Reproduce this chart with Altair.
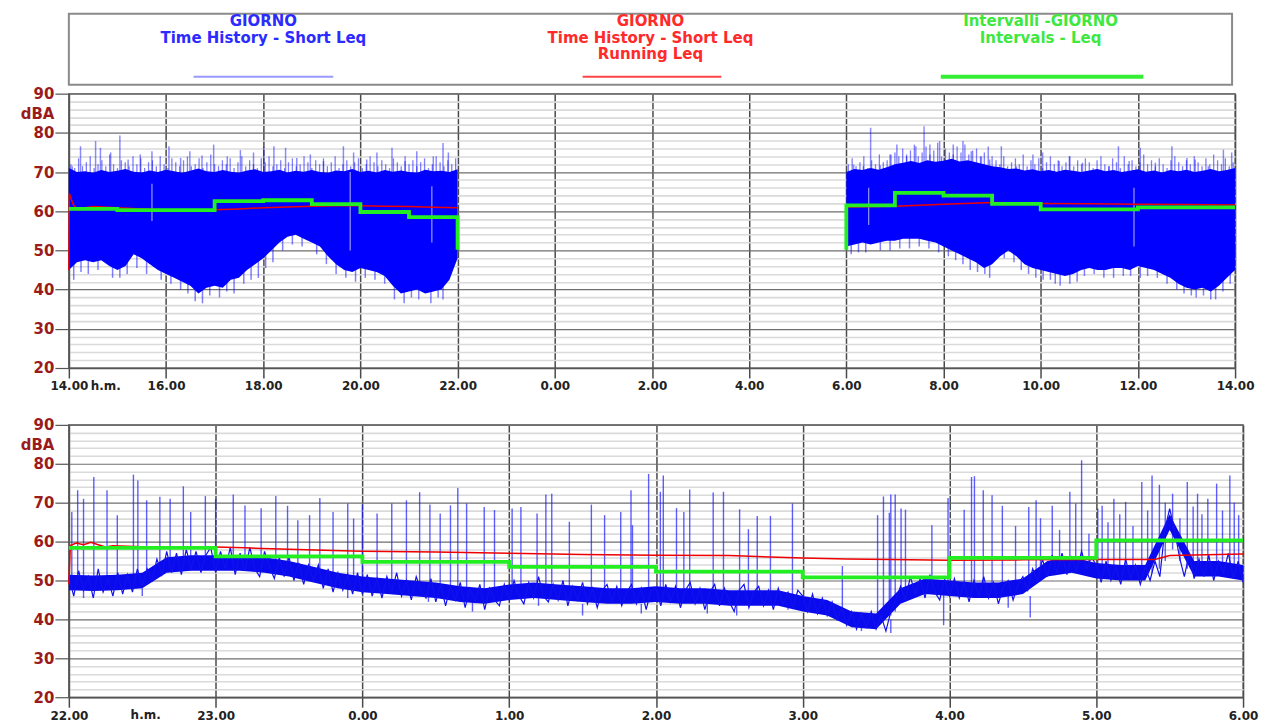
import altair as alt
import pandas as pd

FONT = "DejaVu Sans"
BLUE = "#0000ff"
DARKRED = "#9b1b1b"

# ---------------- TOP PANEL (GIORNO, 14:00 -> 14:00) ; t = hours since 14:00 ----------------
tA = [round(i / 6, 4) for i in range(49)]          # 14:00 -> 22:00, 10-min steps
tB = [round(16 + i / 6, 4) for i in range(49)]     # 06:00 -> 14:00
loA = [45, 47, 47.5, 47, 47.5, 46, 45,
       46, 49, 48, 46.5, 45, 44, 43,
       42, 41, 39, 40.5, 41, 40.5, 42.5,
       43, 45, 46.5, 48, 50, 52, 53.5,
       54, 53, 52, 51, 48.5, 46.5, 45,
       44.5, 45.5, 45, 44.5, 43.5, 41, 39,
       39.5, 40, 39, 39.5, 40, 42.5, 48]
hiA = [71, 70, 70.2, 69.8, 70.5, 70, 70.3, 70.8, 70.1, 69.9,
       70.4, 70, 70.6, 70.2, 69.8, 70.3, 70.9, 70.2, 70, 70.5,
       70.1, 69.8, 70.4, 70.7, 70, 70.2, 70.6, 69.9, 70.3, 70.1,
       70.5, 70, 69.8, 70.4, 70.2, 70.8, 70, 70.3, 69.9, 70.5,
       70.1, 70.4, 70, 69.8, 70.6, 70.2, 70.3, 70, 70.7]
loB = [51, 51.5, 52, 51.5, 52, 52.5, 52.5,
       53, 53, 53, 52.5, 52, 51, 50,
       49, 48, 47, 45.5, 46.5, 48.5, 50,
       48.5, 46.5, 45.5, 45, 44.5, 44, 43.5,
       44, 45, 45.5, 45, 45, 45.5, 45.5,
       45, 46, 45.5, 45, 44, 43, 41.5,
       40.5, 40, 40.5, 39.5, 41, 43, 45]
hiB = [70, 70.8, 70.5, 71, 70.6, 71.2, 72, 72.4, 72.8, 72.3,
       73, 72.6, 72.9, 73.4, 72.7, 73, 72.5, 72, 71.5, 71.2,
       70.8, 70.9, 70.4, 70.7, 70.2, 70.5, 70.1, 70.6, 70.3, 70,
       70.4, 70.8, 70.2, 70.5, 70, 70.3, 70.7, 70.1, 70.4, 69.9,
       70.5, 70.2, 70.6, 70, 70.3, 70.8, 70.2, 70.5, 71]

# dense short fringe spikes above the band (one every ~5 min)
frA_t = [round(0.04 + i * 0.08, 4) for i in range(100)]
frB_t = [round(16.04 + i * 0.08, 4) for i in range(100)]
frA_v = [72, 71, 73.5, 71.5, 72.5, 74, 71, 72, 73, 71.5,
         74.5, 72, 71, 73, 72.5, 71.5, 74, 72, 73.5, 71,
         72.5, 73, 71.5, 74, 72, 71, 73.5, 72.5, 71.5, 73,
         74, 71.5, 72, 73.5, 71, 72.5, 74.5, 72, 71.5, 73,
         72, 73.5, 71, 72.5, 74, 71.5, 73, 72, 71, 73.5,
         72.5, 74, 71.5, 72, 73, 71, 72.5, 73.5, 71.5, 72,
         74, 72.5, 71, 73, 72, 73.5, 71.5, 72.5, 74, 71,
         72, 73, 71.5, 72.5, 73.5, 71, 72, 74, 72.5, 71.5,
         73, 72, 71, 73.5, 72.5, 71.5, 74, 72, 73, 71.5,
         72.5, 73.5, 71, 72, 74, 72.5, 71.5, 73, 72, 73.5]
frB_v = [72, 73.5, 71.5, 72.5, 74, 71, 73, 72, 74.5, 72.5, 73, 74.5,
         75, 74, 76, 74.5, 75.5, 77, 74, 75, 76.5, 74.5, 75.5, 77.5, 74, 76, 75, 74.5, 76.5,
         75, 77, 74.5, 75.5, 76, 74, 75, 76.5, 74,
         73, 72, 74, 71.5, 72.5, 73.5, 72, 74.5, 71.5, 73, 72, 73.5, 71, 72.5, 74, 72, 73,
         71.5, 72.5, 74, 71.5, 73, 72, 73.5,
         72.5, 71, 73, 74, 72, 71.5, 73.5, 72.5, 71, 74, 72, 73, 71.5, 72.5, 74.5, 72, 73,
         71.5, 73.5, 72, 71, 73, 74, 72.5,
         71.5, 73, 72, 74, 72.5, 71.5, 73.5, 72, 74.5, 73, 72, 73.5, 71.5, 72.5]

# taller isolated spikes (time, peak dBA)
spUp_t = [0.07, 0.24, 0.55, 0.65, 0.86, 1.05, 1.22, 1.47, 1.71, 2.06, 2.3, 2.49, 2.74, 2.98,
          3.26, 3.53, 3.8, 4.01, 4.22, 4.46, 4.69, 4.97, 5.24, 5.65, 5.86, 6.13, 6.34, 6.65,
          6.92, 7.16, 7.5, 7.7, 7.81,
          16.15, 16.35, 16.5, 16.7, 16.9, 17.04, 17.24, 17.43, 17.6, 17.72, 17.92, 18.2, 18.4,
          18.57, 18.78, 18.95, 19.19, 19.5, 19.84, 20.04, 20.38, 20.59, 20.86, 21.13, 21.41,
          21.6, 21.82, 22.05, 22.36, 22.7, 23.01, 23.18, 23.45, 23.76, 23.93]
spUp_v = [71.5, 76.6, 77.9, 76.2, 75, 79.3, 73.2, 74.5, 75.3, 76.6, 73.6, 75.3, 74.2, 77,
          74, 75.6, 75, 76.4, 76.6, 76.2, 73.6, 74.5, 72.8, 76.6, 75, 73.2, 75, 76.2,
          72.8, 75.3, 74, 77.4, 75,
          71.9, 71.5, 81.3, 71.7, 74.5, 77, 74, 76.6, 81.7, 77, 77.9, 77, 77.9,
          75.3, 74, 73.2, 76.6, 71.5, 74.5, 75, 72.8, 74, 72.4, 70.6, 71.5,
          76.6, 72.8, 76.2, 72.4, 76.6, 73.6, 73.2, 71.5, 75.7, 75]

# lower fringe spikes (time, lowest dBA)
spLo_t = [0.1, 0.25, 0.4, 0.6, 0.9, 1.05, 1.2, 1.4, 1.6, 1.9, 2.1, 2.3, 2.45, 2.6, 2.75, 2.9,
          3.1, 3.25, 3.4, 3.6, 3.75, 3.9, 4.05, 4.2, 4.4, 4.6, 4.8, 5.1, 5.3, 5.5, 5.7, 5.9,
          6.1, 6.3, 6.5, 6.7, 6.9, 7.05, 7.2, 7.45, 7.6, 7.7,
          16.1, 16.25, 16.4, 16.7, 16.9, 17.1, 17.3, 17.5, 17.7, 17.9, 18.1, 18.25, 18.4, 18.55,
          18.7, 18.85, 18.95, 19.25, 19.45, 19.6, 19.75, 19.9, 20.05, 20.2, 20.3, 20.4, 20.6,
          20.75, 20.9, 21.1, 21.3, 21.5, 21.7, 21.85, 22.05, 22.2, 22.4, 22.6, 22.8, 22.95,
          23.1, 23.2, 23.35, 23.5, 23.6, 23.75, 23.9]
spLo_v = [42.5, 44.5, 44, 45, 43, 43, 44, 45.5, 44, 42.5, 41.5, 40, 39, 37, 36.5, 38.5,
          38, 39.5, 39, 41.5, 42.5, 43, 45.5, 47, 50, 51.5, 51, 49, 46.5, 44, 43, 42,
          43, 42.5, 41.5, 37.5, 36.5, 38, 37.5, 36.5, 38, 37.5,
          49, 49.5, 49.5, 50, 50, 50.5, 50.5, 51, 50.5, 49.5, 48.5, 47.5, 46.5, 45,
          44.5, 44, 43, 48, 47, 45, 44, 43, 42.5, 42.5, 41.5, 41, 41.5,
          42, 43.5, 44, 43, 43, 43.5, 43.5, 43, 43.5, 43, 41.5, 40, 39,
          38.5, 38, 38.5, 37.5, 37.5, 39.5, 41.5]

# lighter streaks through the dense band (time, from, to)
stk_t = [1.71, 5.79, 7.47, 16.46, 21.92]
stk_lo = [57.5, 50, 52, 56.5, 51]
stk_hi = [67, 70, 66.4, 66, 66]

# running Leq (red) and interval Leq (green)
redA_t = [0, 0.01, 0.05, 0.1, 0.2, 0.3, 0.5, 1, 1.5, 2, 2.5, 3, 3.5, 4, 4.5, 5, 5.5, 6, 6.5, 7, 7.5, 8]
redA_v = [45, 64.5, 63, 61.5, 60.2, 60.8, 61.2, 60.9, 60.6, 60.4, 60.3, 60.4, 60.6, 60.9, 61.1,
          61.3, 61.4, 61.4, 61.3, 61.2, 61.0, 60.9]
redB_t = [16, 17, 18, 19, 20, 21, 22, 23, 24]
redB_v = [61.1, 61.3, 61.8, 62.2, 62.0, 61.9, 61.8, 61.7, 61.6]
grnA_t = [0, 1, 2, 3, 4, 5, 6, 7, 8, 8]
grnA_v = [60.6, 60.3, 60.3, 62.6, 62.8, 61.8, 59.8, 58.5, 58.5, 50.2]
grnB_t = [16, 16, 17, 18, 19, 20, 21, 22, 23, 24]
grnB_v = [50.2, 61.5, 64.7, 64.0, 61.9, 60.5, 60.5, 61.0, 61.0, 61.0]

# ---------------- BOTTOM PANEL (22:00 -> 06:00) ; t = hours since 22:00 ----------------
tN = [round(i / 6, 4) for i in range(49)]
loN = [47.5, 47.3, 47.5, 48, 52, 52.5, 52.5, 52.5, 52, 51, 49.5, 48, 47, 46.5, 46, 45.5,
       44.5, 44, 45, 45.5, 45, 44.5, 44, 44, 44.5, 44, 44, 43.5, 43.5, 43.5, 42, 41, 38, 37.5,
       44, 46.5, 46, 45.5, 45.5, 46.5, 51, 52, 50.5, 50, 50, 63, 51, 51, 50]
hiN = [51.5, 51.3, 51.5, 52, 56, 56.5, 56.5, 56.5, 56, 55, 53.5, 52, 51, 50.5, 50, 49.5,
       48.5, 48, 49, 49.5, 49, 48.5, 48, 48, 48.5, 48, 48, 47.5, 47.5, 47.5, 46, 45, 42, 41.5,
       48, 50.5, 50, 49.5, 49.5, 50.5, 55, 56, 54.5, 54, 54, 67, 55, 55, 54]

# short Leq trace, 2-minute samples
tL = [round(i / 30, 4) for i in range(241)]
vL = [51, 46, 52.5, 47.5, 51, 45.5, 53, 47, 50.5, 46, 52, 46.5, 51.5, 47, 53,
      48.5, 53, 50, 55.5, 51.5, 57.5, 52, 57, 51.5, 58, 53, 57.5, 52, 56.5, 58.5,
      52, 57.5, 53, 58.5, 51.5, 57, 52.5, 58.5, 53, 51, 57.5, 53.5, 50.5, 56, 51,
      56, 50, 54.5, 49, 54, 50, 54, 48, 53, 47, 52, 47.5, 51.5, 46.5, 52,
      46.5, 51.5, 46, 50.5, 45.5, 51, 47, 52, 46, 50, 45, 51, 47.5, 45.5, 50.5,
      44.5, 49, 43.5, 48.5, 45, 49.5, 43, 48, 44.5, 49, 42.5, 48, 45, 43.5, 49,
      45, 50, 46, 44, 49.5, 45.5, 51, 46, 44.5, 49, 45, 50, 43.5, 48.5, 45,
      49.5, 44, 48, 43, 47.5, 49, 44.5, 48.5, 43.5, 47, 49, 44, 48, 42.5, 47.5,
      48, 43.5, 49, 44.5, 48.5, 43, 47.5, 49.5, 44, 48, 42.5, 47, 49, 43.5, 48,
      44.5, 42, 47.5, 49, 43, 47, 48.5, 43.5, 47.5, 42.5, 48, 44, 47, 43, 47.5,
      46, 42, 46.5, 41.5, 45.5, 41, 44.5, 40, 43, 38.5, 42, 37.5, 41.5, 38, 42,
      37.5, 41, 37, 42, 45, 48.5, 45, 51, 46.5, 50.5, 45.5, 51.5, 47, 45, 50.5,
      46, 50.5, 45.5, 49.5, 44.5, 50, 46, 51, 45.5, 49.5, 44, 48.5, 50, 45, 49,
      51, 47.5, 53, 50, 55.5, 51, 56.5, 52, 57, 51.5, 56, 52.5, 57.5, 53, 56,
      54, 49.5, 55, 50, 53.5, 49, 55.5, 50.5, 54, 49, 53.5, 50, 55, 51, 63,
      68.5, 63, 56, 51, 57, 50.5, 55.5, 51, 56.5, 50, 55, 52, 57, 50.5, 55, 49.5]

spN_t = [0.02, 0.06, 0.10, 0.17, 0.26, 0.33, 0.44, 0.47, 0.53, 0.62, 0.69, 0.78, 0.83, 0.93,
         1.00, 1.12, 1.20, 1.31, 1.41, 1.49, 1.56, 1.64, 1.71, 1.80, 1.90, 1.94, 2.00, 2.10,
         2.20, 2.30, 2.39, 2.46, 2.53, 2.60, 2.65, 2.71, 2.83, 2.90, 3.02, 3.08, 3.19, 3.25,
         3.29, 3.41, 3.56, 3.65, 3.76, 3.83, 3.84, 3.95, 4.03, 4.05, 4.14, 4.19, 4.23, 4.39,
         4.46, 4.57, 4.63, 4.69, 4.78, 4.93, 5.27, 5.51, 5.55, 5.59, 5.60, 5.63, 5.67, 5.70,
         5.88, 5.99, 6.10, 6.15, 6.17, 6.23, 6.29, 6.36, 6.45, 6.54, 6.59, 6.62, 6.70, 6.75,
         6.82, 6.86, 6.90, 6.95, 7.01, 7.04, 7.08, 7.12, 7.16, 7.20, 7.25, 7.31, 7.35, 7.38,
         7.43, 7.47, 7.52, 7.57, 7.62, 7.66, 7.69, 7.72, 7.76, 7.82, 7.86, 7.91, 7.94, 7.97]
spN_base = [49, 49, 49, 49, 49, 49, 49, 49, 50, 52, 53, 54, 54, 54,
            54, 54, 54, 54, 53, 53, 52, 52, 51, 50, 49, 49, 49, 48,
            48, 48, 48, 47, 47, 47, 46, 46, 46, 47, 47, 47, 47, 47,
            47, 47, 46, 46, 46, 46, 46, 46, 46, 46, 46, 46, 46, 46,
            46, 46, 46, 46, 46, 45, 40, 40, 40, 41, 41, 42, 45, 46,
            48, 48, 48, 48, 48, 48, 48, 48, 48, 48, 50, 50, 52, 52,
            53, 53, 53, 53, 52, 52, 52, 52, 52, 52, 52, 52, 52, 52,
            53, 55, 58, 55, 53, 53, 53, 53, 53, 53, 53, 52, 52, 52]
spN_top = [67.6, 73.2, 71, 76.6, 73.2, 66.8, 77.2, 75.7, 70.6, 71.5, 71, 74.2, 67.6, 71.7,
           71, 72.1, 69.3, 68.6, 71.7, 69.2, 65.5, 66.8, 71.2, 67.6, 69.8, 65.9, 69.5, 67.2,
           69.8, 70.6, 72.7, 69.5, 67.2, 69.3, 73.8, 69.8, 68.9, 68.1, 68.5, 68.9, 67.2, 72.1,
           72.3, 65.1, 69.5, 66.8, 67.6, 73.2, 64.2, 77.4, 72.8, 77, 68.6, 67.6, 73.4, 72.6,
           72.8, 68.3, 63.2, 66.6, 66.6, 69.8, 53.7, 66.8, 71.6, 67.4, 72.1, 72.1, 68.5, 68.2,
           64.2, 71.2, 68.2, 76.6, 76.8, 73.2, 71.9, 69.2, 64, 68.9, 70.6, 66, 69.2, 63,
           72.8, 69.8, 80.9, 62, 68.5, 69.2, 65, 71, 67, 70.2, 64, 75.3, 68, 77,
           74.6, 70, 72.3, 66, 75.3, 69, 72.3, 67, 71, 74.9, 68, 77, 70, 66.8]
spNlo_t = [0.10, 0.50, 1.90, 2.45, 2.75, 3.20, 3.50, 3.90, 4.35, 4.55, 4.90, 5.40, 5.60, 5.96, 6.40, 6.55]
spNlo_v = [45.5, 46, 45.5, 44.5, 42, 43.5, 41, 41.5, 41.5, 41, 42.5, 37, 36.5, 38.5, 43, 40.5]
spNlo_base = [48, 48, 48, 47, 45, 46, 44, 44, 44, 44, 44, 40, 40, 47, 46, 46]

redN_t = [0, 0.01, 0.05, 0.1, 0.15, 0.2, 0.25, 0.3, 0.5, 1.0, 1.2, 1.5, 1.8, 2.0, 2.5, 3.0, 3.5,
          4.0, 4.5, 5.0, 5.3, 5.6, 6.0, 6.5, 7.0, 7.4, 7.5, 8.0]
redN_v = [49, 59, 59.6, 59.2, 59.8, 59.2, 58.6, 58.9, 58.7, 58.6, 58.4, 58.0, 57.7, 57.5, 57.3,
          57.0, 56.7, 56.5, 56.4, 55.8, 55.5, 55.4, 55.2, 55.3, 55.4, 55.4, 56.4, 56.8]
grnN_t = [0, 1, 2, 3, 4, 5, 6, 7, 8]
grnN_v = [58.4, 56.2, 54.8, 53.5, 52.3, 50.8, 55.8, 60.3, 60.3]

# legend texts
leg_blue = ["GIORNO", "Time History - Short Leq"]
leg_red = ["GIORNO", "Time History - Short Leq", "Running Leq"]
leg_green = ["Intervalli -GIORNO", "Intervals - Leq"]

# ---------------- helpers ----------------
W_TOP, H_TOP = 1169, 275
W_BOT, H_BOT = 1177, 273

ys = alt.Scale(domain=[20, 90], nice=False, zero=False)
is10 = "datum.value % 10 === 0"
ya = alt.Axis(
    values=list(range(20, 91, 2)),
    labelExpr="datum.value % 10 === 0 ? datum.value : ''",
    labelOverlap=False,
    gridColor={"condition": {"test": is10, "value": "#6e6e6e"}, "value": "#dadada"},
    gridWidth={"condition": {"test": is10, "value": 1.2}, "value": 1.6},
    tickOpacity={"condition": {"test": is10, "value": 1}, "value": 0},
    tickSize=14, tickColor="#555555", tickWidth=1.2,
    domainColor="#555555", domainWidth=1.5,
    labelPadding=1, labelFont=FONT, labelFontWeight="bold", labelFontSize=15,
    labelColor=DARKRED,
    title="dBA", titleAngle=0, titleAlign="right", titleBaseline="middle",
    titleX=-15, titleY=20, titleFont=FONT, titleFontSize=15, titleFontWeight="bold",
    titleColor=DARKRED,
)


def xaxis(vals, start):
    return alt.Axis(
        values=vals,
        labelExpr=f"((({start}) + datum.value) % 24) + '.00'",
        grid=True, gridColor="#4a4a4a", gridWidth=1.5,
        tickColor="#4a4a4a", tickSize=10, tickWidth=1.5,
        domainColor="#555555", domainWidth=1.5,
        labelFont=FONT, labelFontWeight="bold", labelFontSize=12, labelColor="#222222",
        labelPadding=3, labelFlush=False, labelOverlap=False, title=None,
    )


def Y(f):
    return alt.Y(f, scale=ys, axis=ya)


one = pd.DataFrame({"k": [0]})


def hm_label(x, height):
    return alt.Chart(one).mark_text(text="h.m.", font=FONT, fontWeight="bold", fontSize=12,
                                    color="#222222", baseline="top").encode(
        x=alt.value(x), y=alt.value(height + 13))


def red_green(xenc, red_df, grn_df):
    return [
        alt.Chart(red_df).mark_line(color="#ee0000", strokeWidth=1.5)
        .encode(x=xenc, y=Y("v:Q"), detail="seg:N"),
        alt.Chart(grn_df).mark_line(color="#22ee22", strokeWidth=3.8, interpolate="step-after")
        .encode(x=xenc, y=Y("v:Q"), detail="seg:N"),
    ]


# ---------------- top panel ----------------
x_top = alt.X("t:Q", scale=alt.Scale(domain=[0, 24], nice=False, zero=False),
              axis=xaxis(list(range(0, 25, 2)), 14))

top_band = pd.DataFrame({"t": tA + tB, "lo": loA + loB, "hi": hiA + hiB,
                         "seg": ["A"] * len(tA) + ["B"] * len(tB)})
top_fr = pd.DataFrame({"t": frA_t + frB_t, "top": frA_v + frB_v})
top_up = pd.DataFrame({"t": spUp_t, "top": spUp_v})
top_lo = pd.DataFrame({"t": spLo_t, "bot": spLo_v})
top_stk = pd.DataFrame({"t": stk_t, "lo": stk_lo, "hi": stk_hi})
top_red = pd.DataFrame({"t": redA_t + redB_t, "v": redA_v + redB_v,
                        "seg": ["A"] * len(redA_t) + ["B"] * len(redB_t)})
top_grn = pd.DataFrame({"t": grnA_t + grnB_t, "v": grnA_v + grnB_v,
                        "seg": ["A"] * len(grnA_t) + ["B"] * len(grnB_t)})

top_layers = [
    alt.Chart(top_band).mark_area(color=BLUE, opacity=1, interpolate="linear")
    .encode(x=x_top, y=Y("lo:Q"), y2="hi:Q", detail="seg:N"),
    alt.Chart(top_fr).mark_rule(color=BLUE, opacity=0.5, strokeWidth=1.3)
    .encode(x=x_top, y=Y("top:Q"), y2=alt.datum(68)),
    alt.Chart(top_up).mark_rule(color=BLUE, opacity=0.45, strokeWidth=1.5)
    .encode(x=x_top, y=Y("top:Q"), y2=alt.datum(68)),
    alt.Chart(top_lo).mark_rule(color=BLUE, opacity=0.5, strokeWidth=1.5)
    .encode(x=x_top, y=Y("bot:Q"), y2=alt.datum(55)),
    alt.Chart(top_stk).mark_rule(color="#8c8cff", strokeWidth=1.3)
    .encode(x=x_top, y=Y("lo:Q"), y2="hi:Q"),
] + red_green(x_top, top_red, top_grn) + [hm_label(37, H_TOP)]

# legend (drawn above the top plot)
leg = [alt.Chart(one).mark_rect(fillOpacity=0, stroke="#8a8a8a", strokeWidth=2)
       .encode(x=alt.value(0), x2=alt.value(1166), y=alt.value(-80), y2=alt.value(-9))]

LEG_Y = [-73, -56, -40]


def leg_text(lines, cx, color):
    out = []
    for i, s in enumerate(lines):
        out.append(alt.Chart(one).mark_text(text=s, font=FONT, fontWeight="bold", fontSize=15,
                                            color=color, align="center", baseline="middle")
                   .encode(x=alt.value(cx), y=alt.value(LEG_Y[i])))
    return out


leg += leg_text(leg_blue, 195, "#2b2bff")
leg += leg_text(leg_red, 583, "#ff2a2a")
leg += leg_text(leg_green, 974, "#3fe83f")
for (a, b, c, w) in [(125, 265, "#9999ff", 2), (515, 654, "#ff4444", 2), (874, 1077, "#33ee33", 4)]:
    leg.append(alt.Chart(one).mark_rule(color=c, strokeWidth=w)
               .encode(x=alt.value(a), x2=alt.value(b), y=alt.value(-17)))

top = alt.layer(*(top_layers + leg)).properties(width=W_TOP, height=H_TOP)

# ---------------- bottom panel ----------------
x_bot = alt.X("t:Q", scale=alt.Scale(domain=[0, 8], nice=False, zero=False),
              axis=xaxis(list(range(0, 9)), 22))

bot_band = pd.DataFrame({"t": tN, "lo": loN, "hi": hiN})
bot_line = pd.DataFrame({"t": tL, "v": vL})
bot_up = pd.DataFrame({"t": spN_t, "top": spN_top, "base": spN_base})
bot_lo = pd.DataFrame({"t": spNlo_t, "bot": spNlo_v, "base": spNlo_base})
bot_red = pd.DataFrame({"t": redN_t, "v": redN_v, "seg": ["N"] * len(redN_t)})
bot_grn = pd.DataFrame({"t": grnN_t, "v": grnN_v, "seg": ["N"] * len(grnN_t)})

bot_layers = [
    alt.Chart(bot_up).mark_rule(color="#1a1aff", opacity=0.7, strokeWidth=1.4)
    .encode(x=x_bot, y=Y("top:Q"), y2="base:Q"),
    alt.Chart(bot_lo).mark_rule(color="#1a1aff", opacity=0.7, strokeWidth=1.4)
    .encode(x=x_bot, y=Y("bot:Q"), y2="base:Q"),
    alt.Chart(bot_band).mark_area(color="#0a0aee", opacity=1, interpolate="linear")
    .encode(x=x_bot, y=Y("lo:Q"), y2="hi:Q"),
    alt.Chart(bot_line).mark_line(color="#1212ee", strokeWidth=1.2)
    .encode(x=x_bot, y=Y("v:Q")),
] + red_green(x_bot, bot_red, bot_grn) + [hm_label(77, H_BOT)]

bottom = alt.layer(*bot_layers).properties(width=W_BOT, height=H_BOT)

chart = (
    alt.vconcat(top, bottom, spacing=57, bounds="flush")
    .properties(padding={"left": 11, "top": 3, "right": 5, "bottom": 5}, background="white")
    .configure_view(stroke="#7a7a7a", strokeWidth=1.5)
)

chart.save("out.html", embed_options={"renderer": "svg", "actions": False})
